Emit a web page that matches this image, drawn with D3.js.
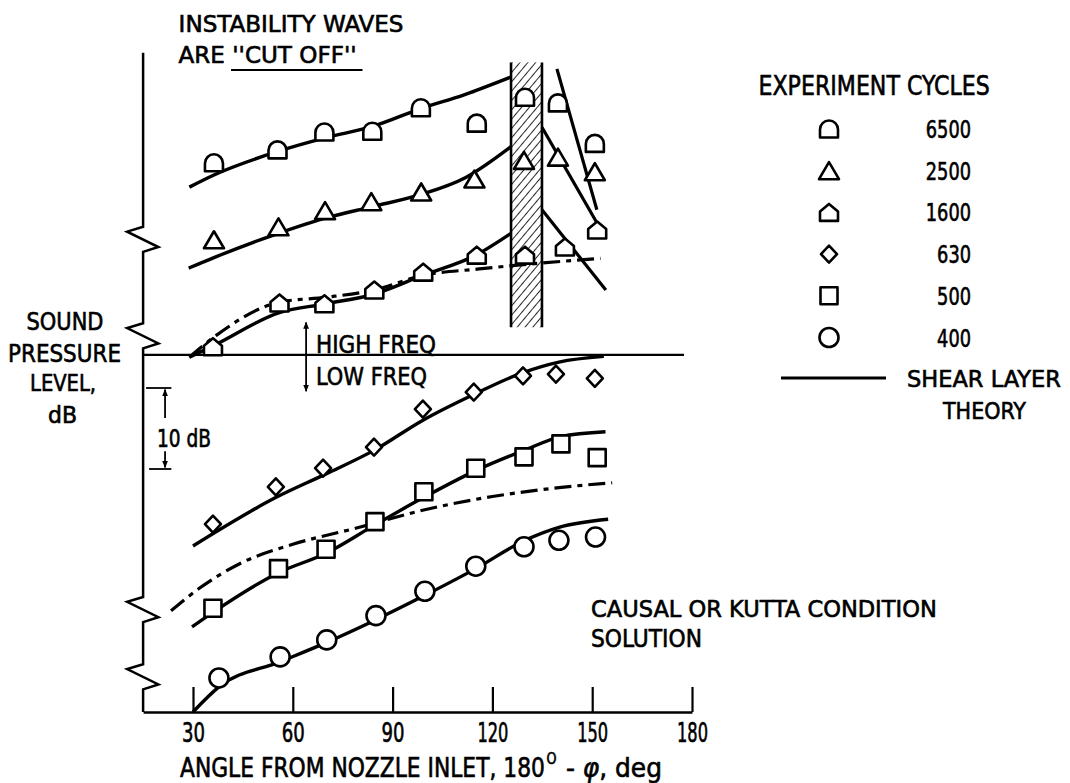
<!DOCTYPE html>
<html>
<head>
<meta charset="utf-8">
<script src="https://cdn.jsdelivr.net/npm/d3@7"></script>
<style>
  body { margin: 0; background: #fff; }
  svg { display: block; }
  text { font-family: "DejaVu Sans Condensed", "Liberation Sans Narrow", "DejaVu Sans", sans-serif; fill: #000; stroke: #000; stroke-width: 0.6; }
</style>
</head>
<body>
<svg id="chart" width="1070" height="783"></svg>
<script>
// angle ticks (deg)
const angleTicks = [30, 60, 90, 120, 150, 180];

// measured points, [angle deg, relative level dB]
const obs6500 = [[36.3, 67.8], [55.4, 69.4], [69.5, 71.6], [83.9, 71.7], [98.5, 74.6], [115.3, 72.7], [129.8, 75.9], [139.7, 75.2], [150.8, 70.2]];
const obs2500 = [[36.3, 58.3], [55.7, 59.9], [69.7, 61.9], [83.6, 63.0], [98.6, 64.2], [114.6, 65.8], [129.5, 68.1], [139.7, 68.5], [150.8, 66.7]];
const obs1600 = [[36, 45.1], [56, 50.5], [69.5, 50.4], [84.5, 52.1], [99.2, 54.3], [115.3, 56.4], [129.8, 56.4], [141.8, 57.4], [151.5, 59.5]];
const obs630 = [[36, 23.2], [54.9, 27.8], [69.1, 30.1], [84.4, 32.7], [99.1, 37.4], [114.4, 39.5], [129.2, 41.5], [139.1, 41.7], [150.8, 41.2]];
const obs500 = [[36, 12.8], [55.7, 17.7], [70, 20.1], [84.7, 23.5], [99.4, 27.2], [115, 30.1], [129.5, 31.5], [140.6, 33.1], [151.5, 31.4]];
const obs400 = [[37.8, 4.2], [56.2, 6.8], [70.2, 8.9], [85, 11.9], [99.7, 14.9], [115, 18.0], [129.5, 20.4], [140, 21.2], [151, 21.6]];

// shear layer theory curves
const th6500 = [[28.9, 64.8], [36.3, 66.3], [55.5, 69.2], [70, 70.9], [84, 72.3], [98.5, 74.5], [111.5, 76.2], [125.6, 78.4]];
const th2500 = [[28.7, 54.8], [36.3, 56.1], [55.7, 59.1], [70, 61.0], [84, 62.4], [98.6, 63.9], [112, 66.0], [125.6, 69.8]];
const th1600 = [[28.9, 43.8], [36, 45.2], [56, 49.3], [70, 50.4], [84.5, 51.6], [99, 53.9], [115, 56.4], [125.6, 59.1]];
const th630 = [[30, 20.5], [55, 26.5], [70, 29.4], [84.4, 32.3], [99, 36.0], [114.4, 39.2], [129.2, 41.9], [140, 43.2], [153.5, 43.9]];
const th500 = [[29.7, 10.5], [36, 12.3], [55.7, 17.2], [70, 19.6], [84.7, 23.1], [99.4, 26.5], [115, 29.8], [129.5, 32.3], [140.6, 34.0], [154, 34.6]];
const th400 = [[30, 0], [37.8, 3.1], [56.2, 6.2], [70.2, 8.6], [85, 11.4], [99.7, 14.4], [115, 17.7], [129.8, 21.2], [140, 22.8], [154.8, 23.8]];

// beyond the cut-off band
const cut6500 = [[139.4, 79.4], [151.4, 62.0]];
const cut2500 = [[134.9, 72.2], [151.4, 60.4]];
const cut1600 = [[134.9, 62.0], [154.1, 52.1]];

// causal / kutta condition solution (dash-dot)
const kutta1600 = [[28.9, 43.8], [37, 46.5], [56, 50.6], [70, 51.2], [84.5, 52.1], [99, 53.9], [116, 54.7], [134, 55.4], [152.5, 56.0]];
const kutta500 = [[23.4, 12.5], [32, 15.3], [45, 18.5], [60, 20.7], [80, 22.8], [100, 25.0], [120, 26.6], [140, 27.7], [156, 28.3]];

const cutBand = [125.6, 134.9];      // deg
const cutBandLevels = [47.5, 80.2];  // dB
const freqSplit = 44.1;              // dB, high / low divider
const axisBreaks = [59.9, 48.0, 14.2, 5.9];

const legendLabels = ['6500', '2500', '1600', '630', '500', '400'];
const legendShapes = ['dome', 'triangle', 'house', 'diamond', 'square', 'circle'];

const svg = d3.select('#chart');
const x = d3.scaleLinear().domain([15, 180]).range([143.1, 692]);
const y = d3.scaleLinear().domain([0, 80]).range([712, 64]);

// condensed text: squeeze horizontally to a measured width
function label(g, txt, px, py, width, size, anchor) {
  const t = g.append('text')
    .attr('font-size', size)
    .attr('text-anchor', anchor || 'start')
    .text(txt);
  fitWidth(t, px, py, width);
  return t;
}
function fitWidth(t, px, py, width) {
  const natural = t.node().getComputedTextLength();
  const sx = natural > 0 ? width / natural : 1;
  t.attr('transform', `translate(${px},${py}) scale(${sx},1)`);
}

function shapePath(type) {
  const w = 18, h = 17;
  switch (type) {
    case 'dome':
      return `M${-w / 2},${h / 2}L${-w / 2},${-h / 2 + w / 2}A${w / 2},${w / 2} 0 0 1 ${w / 2},${-h / 2 + w / 2}L${w / 2},${h / 2}Z`;
    case 'triangle':
      return 'M0,-8.5L10,8.5L-10,8.5Z';
    case 'house':
      return 'M-9,8.5L-9,-1L0,-8.5L9,-1L9,8.5Z';
    case 'diamond':
      return 'M0,-8.5L8,0L0,8.5L-8,0Z';
    case 'square':
      return 'M-8.5,-8.5H8.5V8.5H-8.5Z';
    default:
      return d3.arc()({innerRadius: 0, outerRadius: 9.5, startAngle: 0, endAngle: 2 * Math.PI});
  }
}

const defs = svg.append('defs');
defs.append('pattern')
  .attr('id', 'hatch')
  .attr('patternUnits', 'userSpaceOnUse')
  .attr('width', 6).attr('height', 6)
  .attr('patternTransform', 'rotate(40)')
  .append('line')
  .attr('x1', 0).attr('y1', 0).attr('x2', 0).attr('y2', 6)
  .attr('stroke', '#000').attr('stroke-width', 1.7);
defs.append('marker')
  .attr('id', 'arrow')
  .attr('viewBox', '0 0 10 10')
  .attr('refX', 9).attr('refY', 5)
  .attr('markerWidth', 4).attr('markerHeight', 4)
  .attr('orient', 'auto')
  .append('path').attr('d', 'M0,1L10,5L0,9Z').attr('fill', '#000');

// cut-off band
svg.append('rect')
  .attr('x', x(cutBand[0])).attr('y', y(cutBandLevels[1]))
  .attr('width', x(cutBand[1]) - x(cutBand[0]))
  .attr('height', y(cutBandLevels[0]) - y(cutBandLevels[1]))
  .attr('fill', 'url(#hatch)');
svg.selectAll('.bandEdge')
  .data(cutBand)
  .enter().append('line')
  .attr('x1', d => x(d)).attr('x2', d => x(d))
  .attr('y1', y(cutBandLevels[1])).attr('y2', y(cutBandLevels[0]))
  .attr('stroke', '#000').attr('stroke-width', 2.6);

// x axis
const xAxis = d3.axisBottom(x)
  .tickValues(angleTicks)
  .tickSizeInner(-25)
  .tickSizeOuter(0)
  .tickPadding(11);
const gx = svg.append('g').attr('transform', 'translate(0,712)').call(xAxis);
gx.select('.domain').attr('stroke-width', 2.5);
gx.selectAll('.tick line').attr('stroke-width', 2.2);
gx.selectAll('.tick text')
  .attr('font-size', 27)
  .attr('font-family', '"DejaVu Sans Condensed", sans-serif')
  .attr('fill', '#000')
  .attr('textLength', d => d >= 100 ? 31 : 23)
  .attr('lengthAdjust', 'spacingAndGlyphs');

// broken level axis
const axisPts = [[15, 81.4]];
axisBreaks.forEach(function (b) {
  axisPts.push([15, b], [10.2, b - 0.6], [19.6, b - 2.5], [15, b - 3.1]);
});
axisPts.push([15, 0]);
svg.append('path')
  .attr('d', d3.line().x(d => x(d[0])).y(d => y(d[1]))(axisPts))
  .attr('fill', 'none').attr('stroke', '#000')
  .attr('stroke-width', 2.5).attr('stroke-linejoin', 'miter');

// high / low frequency divider
svg.append('line')
  .attr('x1', x(15)).attr('x2', x(177.6))
  .attr('y1', y(freqSplit)).attr('y2', y(freqSplit))
  .attr('stroke', '#000').attr('stroke-width', 2.2);

const curve = d3.line().x(d => x(d[0])).y(d => y(d[1])).curve(d3.curveMonotoneX);
const straight = d3.line().x(d => x(d[0])).y(d => y(d[1]));

[th6500, th2500, th1600, th630, th500, th400].forEach(function (c) {
  svg.append('path').attr('d', curve(c))
    .attr('fill', 'none').attr('stroke', '#000').attr('stroke-width', 3.4);
});
[cut6500, cut2500, cut1600].forEach(function (c) {
  svg.append('path').attr('d', straight(c))
    .attr('fill', 'none').attr('stroke', '#000').attr('stroke-width', 3.2);
});
[kutta1600, kutta500].forEach(function (c) {
  svg.append('path').attr('d', curve(c))
    .attr('fill', 'none').attr('stroke', '#000').attr('stroke-width', 3.2)
    .attr('stroke-dasharray', '17,6,5,6');
});

// observations
const obsSets = [obs6500, obs2500, obs1600, obs630, obs500, obs400];
obsSets.forEach(function (set, i) {
  svg.selectAll('.obs' + i)
    .data(set)
    .enter().append('path')
    .attr('d', shapePath(legendShapes[i]))
    .attr('transform', d => `translate(${x(d[0])},${y(d[1])})`)
    .attr('fill', '#fff').attr('stroke', '#000').attr('stroke-width', 2.6)
    .attr('stroke-linejoin', 'round');
});

// 10 dB scale bar
const bar = svg.append('g');
bar.append('line').attr('x1', x(15.9)).attr('x2', x(23.5)).attr('y1', y(40)).attr('y2', y(40))
  .attr('stroke', '#000').attr('stroke-width', 1.8);
bar.append('line').attr('x1', x(16.8)).attr('x2', x(23.5)).attr('y1', y(30)).attr('y2', y(30))
  .attr('stroke', '#000').attr('stroke-width', 1.8);
bar.append('line').attr('x1', x(21.6)).attr('x2', x(21.6)).attr('y1', y(36.3)).attr('y2', y(39.8))
  .attr('stroke', '#000').attr('stroke-width', 1.8).attr('marker-end', 'url(#arrow)');
bar.append('line').attr('x1', x(21.6)).attr('x2', x(21.6)).attr('y1', y(32.2)).attr('y2', y(30.2))
  .attr('stroke', '#000').attr('stroke-width', 1.8).attr('marker-end', 'url(#arrow)');
label(bar, '10 dB', 157, 446.5, 54, 24);

// high / low freq arrow
svg.append('line').attr('x1', x(64)).attr('x2', x(64)).attr('y1', y(freqSplit)).attr('y2', y(48.1))
  .attr('stroke', '#000').attr('stroke-width', 1.8).attr('marker-end', 'url(#arrow)');
svg.append('line').attr('x1', x(64)).attr('x2', x(64)).attr('y1', y(freqSplit)).attr('y2', y(39.6))
  .attr('stroke', '#000').attr('stroke-width', 1.8).attr('marker-end', 'url(#arrow)');
label(svg, 'HIGH FREQ', 316, 353, 120, 25);
label(svg, 'LOW FREQ', 316, 385, 111, 25);

// annotations
label(svg, 'INSTABILITY WAVES', 178.6, 32, 225, 23.5);
label(svg, "ARE ''CUT OFF''", 178.6, 63, 178, 23.5);
svg.append('line').attr('x1', 231).attr('x2', 362.5).attr('y1', 70).attr('y2', 70)
  .attr('stroke', '#000').attr('stroke-width', 1.8);

label(svg, 'SOUND', 65, 330, 77, 25, 'middle');
label(svg, 'PRESSURE', 64.5, 362, 113, 25.5, 'middle');
label(svg, 'LEVEL,', 63, 391, 66, 23.5, 'middle');
label(svg, 'dB', 62.5, 423, 29, 23.5, 'middle');

label(svg, 'CAUSAL OR KUTTA CONDITION', 591, 617, 346, 23.5);
label(svg, 'SOLUTION', 591, 647, 111, 25);

// axis title, in three pieces so the raised degree mark sits clear
label(svg, 'ANGLE FROM NOZZLE INLET,  180', 180, 777, 365, 27);
label(svg, 'O', 546.5, 764, 10, 15);
const tail = svg.append('text').attr('font-size', 27);
tail.append('tspan').text('- ');
tail.append('tspan').attr('font-style', 'italic').text('φ');
tail.append('tspan').text(',  deg');
fitWidth(tail, 566, 777, 96);

// legend
const legend = svg.append('g');
label(legend, 'EXPERIMENT CYCLES', 758.5, 95, 231.5, 27);
const rows = legend.selectAll('.legendRow')
  .data(legendLabels)
  .enter().append('g')
  .attr('transform', (d, i) => `translate(0,${129 + i * 41.7})`);
rows.append('path')
  .attr('d', (d, i) => shapePath(legendShapes[i]))
  .attr('transform', 'translate(829,0)')
  .attr('fill', '#fff').attr('stroke', '#000').attr('stroke-width', 2.6)
  .attr('stroke-linejoin', 'round');
rows.each(function (d) {
  label(d3.select(this), d, 971, 9, d.length * 11.3, 25, 'end');
});
legend.append('line').attr('x1', 781).attr('x2', 886).attr('y1', 378).attr('y2', 378)
  .attr('stroke', '#000').attr('stroke-width', 3.2);
label(legend, 'SHEAR LAYER', 907, 386.5, 154, 23.5);
label(legend, 'THEORY', 943, 419, 83, 23.5);
</script>
</body>
</html>
